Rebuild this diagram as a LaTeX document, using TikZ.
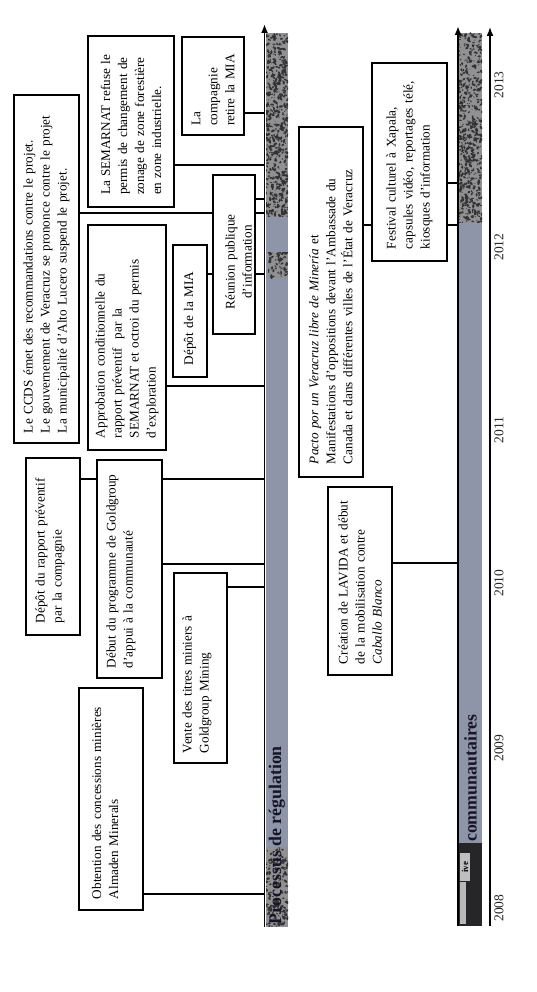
\documentclass[tikz,border=0pt]{standalone}
\usepackage{fontspec}
\setmainfont{Liberation Serif}
\usetikzlibrary{arrows.meta,backgrounds}
\definecolor{barlight}{RGB}{143,149,168}
\definecolor{texbase}{RGB}{145,145,148}
\definecolor{texdark}{RGB}{50,50,53}
\definecolor{labink}{RGB}{22,22,40}
\definecolor{commdark}{RGB}{38,38,40}
\newcommand{\xd}[1]{\rule[-#1pt]{0pt}{#1pt}}
\newcommand{\mytexture}[5]{%
  \begin{scope}
    \clip (#1,-#2) rectangle (#3,-#4);
    \fill[texbase] (#1,-#2) rectangle (#3,-#4);
    \foreach \k in {1,...,#5}{%
      \pgfmathsetmacro{\bx}{#1+(#3-#1)*rnd}%
      \pgfmathsetmacro{\by}{#2+(#4-#2)*rnd}%
      \pgfmathsetmacro{\br}{0.35+0.9*rnd}%
      \pgfmathsetmacro{\ba}{180*rnd}%
      \fill[texdark, rotate around={\ba:(\bx,-\by)}] (\bx,-\by) ellipse [x radius=\br, y radius=1.8*\br];
    }
  \end{scope}}
\tikzset{
  evbox/.style={draw=black, line width=1.3pt, fill=white, rotate=90, align=left,
    inner ysep=0pt, font=\fontsize{13.2}{17}\selectfont},
  evdim/.style n args={4}{minimum width=#1pt, minimum height=#2pt, text width=#3pt, inner xsep=#4pt},
  conn/.style={line width=1.3pt},
  axisline/.style={line width=1.9pt, -{Latex[length=9pt,width=7pt]}},
  yearlab/.style={rotate=90, font=\fontsize{13.5}{16}\selectfont, text=black!85},
  barlab/.style={rotate=90, anchor=west, font=\fontsize{17.8}{20}\selectfont\bfseries, text=labink, inner sep=0pt},
}
\begin{document}
\begin{tikzpicture}[x=1pt,y=1pt]
\pgfmathsetseed{12}
\useasboundingbox (0,0) rectangle (536,-992);
\begin{scope}[on background layer]\fill[white] (0,0) rectangle (536,-992);\end{scope}

% ---- bars
\fill[barlight] (266,-33) rectangle (288,-927);
\mytexture{266}{33}{288}{217}{600}
\mytexture{268}{252}{288}{278}{70}
\mytexture{266}{847}{288}{927}{180}
\fill[barlight] (459,-33) rectangle (482,-926);
\mytexture{459}{33}{482}{223}{560}
\fill[commdark] (459,-843) rectangle (482,-926);
\fill[gray!55] (460,-882) rectangle (466,-924);
\fill[gray!50] (460,-853) rectangle (470,-881);

% ---- axes
\coordinate (axU) at (264.5,0);
\coordinate (axC) at (458,0);
\coordinate (axUbot) at (264.5,-927);
\coordinate (axUtop) at (264.5,-24);
\coordinate (axCbot) at (458,-926);
\coordinate (axCtop) at (458,-26);
\coordinate (axYbot) at (490,-926);
\coordinate (axYtop) at (490,-27);
\draw[axisline] (axUbot) -- (axUtop);
\draw[axisline] (axCbot) -- (axCtop);
\draw[axisline, line width=1.6pt] (axYbot) -- (axYtop);

% ---- bar labels
\node[barlab] (proc) at (277,-925) {Processus de régulation};
\node[barlab] (comm) at (470.5,-842) {communautaires};
\node[rotate=90, font=\fontsize{9}{10}\selectfont\bfseries, text=black, inner sep=0pt] (ive) at (465,-867) {ive};

% ---- years
\node[yearlab] (y13) at (499,-85) {2013};
\node[yearlab] (y12) at (499,-247) {2012};
\node[yearlab] (y11) at (499,-430) {2011};
\node[yearlab] (y10) at (499,-583) {2010};
\node[yearlab] (y09) at (499,-748) {2009};
\node[yearlab] (y08) at (499,-908) {2008};

% ---- regulation events
\node[evbox, evdim={98}{62}{80}{9}] (comp) at (213,-86) {La\\compagnie\\retire la MIA};
\node[evbox, evdim={171}{86}{147}{12}] (semr) at (131,-121.5) {La SEMARNAT refuse le\\permis de changement de\\zonage de zone forestière\\en zone industrielle.};
\node[evbox, evdim={348}{65}{328}{10}] (ccds) at (46.5,-269) {Le CCDS émet des recommandations contre le projet.\\Le gouvernement de Veracruz se prononce contre le projet\\La municipalité d'Alto Lucero suspend le projet.};
\node[evbox, evdim={159}{42}{147}{6}, align=center] (reun) at (234,-254.5) {\rule{0pt}{18.5pt}Réunion publique\rule{15pt}{0pt}\\d'information\rule{15pt}{0pt}};
\node[evbox, evdim={132}{34}{108}{12}] (mia) at (190,-311) {Dépôt de la MIA};
\node[evbox, evdim={225}{78}{201}{12}] (appr) at (127,-337.5) {Approbation conditionnelle du\\rapport préventif\ \ par la\\SEMARNAT et octroi du permis\\d'exploration};
\node[evbox, evdim={177}{54}{153}{12}] (depr) at (53,-546.5) {Dépôt du rapport préventif\\par la compagnie\xd{9}};
\node[evbox, evdim={218}{65}{198}{10}] (debut) at (129.5,-569) {Début du programme de Goldgroup\\d'appui à la communauté\xd{20}};
\node[evbox, evdim={190}{53}{170}{10}] (vente) at (200.5,-668) {Vente des titres miniers à\\Goldgroup Mining\xd{10}};
\node[evbox, evdim={222}{64}{200}{11}] (obt) at (111,-799) {Obtention des concessions minières\\Almaden Minerals\xd{12}};

% ---- community events
\node[evbox, evdim={198}{75}{174}{12}] (fest) at (409.5,-162) {Festival culturel à Xapala,\\capsules vidéo, reportages télé,\\kiosques d'information};
\node[evbox, evdim={350}{64}{324}{13}] (pacto) at (331,-302) {\textit{Pacto por un Veracruz libre de Minería} et\\Manifestations d'oppositions devant l'Ambassade du\\Canada et dans différentes villes de l'État de Veracruz};
\node[evbox, evdim={188}{64}{166}{11}] (lavida) at (360,-581) {Création de LAVIDA et début\\de la mobilisation contre\\\textit{Caballo Blanco}};

% ---- connectors (behind boxes)
\begin{scope}[on background layer]
\draw[conn] (comp.south |- 0,-113) -- (axU |- 0,-113);
\draw[conn] (semr.south |- 0,-165) -- (axU |- 0,-165);
\draw[conn] (reun.south |- 0,-199) -- (axU |- 0,-199);
\draw[conn] (ccds.south |- 0,-213) -- (axU |- 0,-213);
\draw[conn] (mia.south |- 0,-274) -- (axU |- 0,-274);
\draw[conn] (appr.south |- 0,-386) -- (axU |- 0,-386);
\draw[conn] (depr.south |- 0,-479) -- (axU |- 0,-479);
\draw[conn] (debut.south |- 0,-564) -- (axU |- 0,-564);
\draw[conn] (vente.south |- 0,-587) -- (axU |- 0,-587);
\draw[conn] (obt.south |- 0,-894) -- (axU |- 0,-894);
\draw[conn] (fest.south |- 0,-183) -- (axC |- 0,-183);
\draw[conn] (pacto.south |- 0,-225) -- (axC |- 0,-225);
\draw[conn] (lavida.south |- 0,-563) -- (axC |- 0,-563);
\end{scope}
\end{tikzpicture}
\end{document}
